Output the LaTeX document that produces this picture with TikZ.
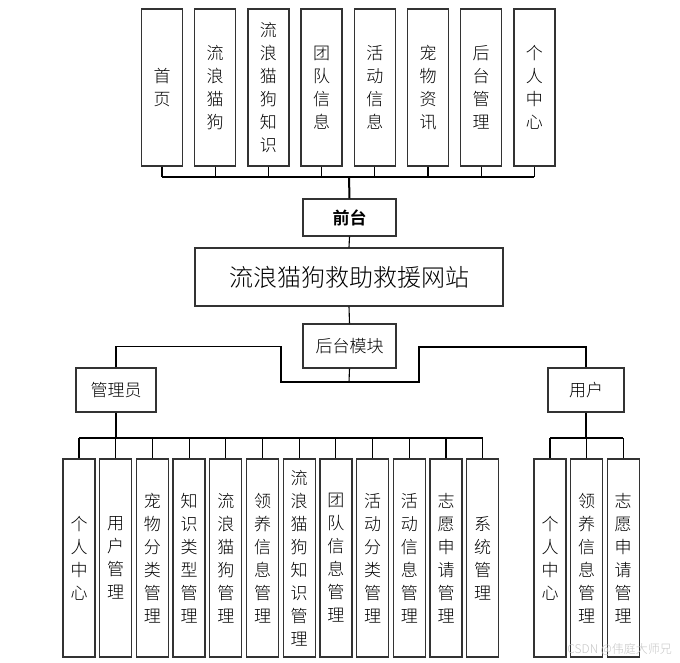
\documentclass[tikz,border=0pt]{standalone}
\usepackage{fontspec}
\setmainfont{Noto Sans CJK SC}[UprightFont=* Light, BoldFont=* Bold]
\usepackage{tikz}
\usetikzlibrary{positioning, calc}
\definecolor{borde}{HTML}{333333}
\tikzset{
  every picture/.style={x=1pt, y=-1pt},
  caja/.style={draw=borde, line width=1.3pt, fill=white, inner sep=0pt, align=center,
              font=\fontsize{17}{23}\selectfont},
  modsup/.style={caja, minimum width=41pt, minimum height=157pt, text width=41pt},
  modinf/.style={caja, minimum width=32pt, minimum height=198pt, text width=32pt},
  rol/.style={caja, minimum height=44pt},
  linea/.style={draw=black, line width=1.1pt},
  tronco/.style={draw=black, line width=2pt},
}

\begin{document}
\begin{tikzpicture}
  \useasboundingbox (0,0) rectangle (680,663);
  % front modules
  \foreach \t [count=\i] in {{首\\页}, {流\\浪\\猫\\狗}, {流\\浪\\猫\\狗\\知\\识}, {团\\队\\信\\息}, {活\\动\\信\\息}, {宠\\物\\资\\讯}, {后\\台\\管\\理}, {个\\人\\中\\心}} {
    \node[modsup] (t\i) at ({162+53.2*(\i-1)},87.5) {\t};
  }
  \coordinate (bf) at (349,177);
  \foreach \i in {1,...,8} \draw[linea] (t\i.south) -- (t\i.south |- bf);
  \draw[tronco] (t1.south |- bf) -- (t8.south |- bf);

  \node[caja, minimum width=93pt, minimum height=37pt, font=\fontsize{17}{17}\selectfont\bfseries] (qt) at (349.5,217.5) {前台};
  \node[caja, minimum width=308pt, minimum height=58pt, font=\fontsize{24}{24}\selectfont] (web) at (349,277) {流浪猫狗救助救援网站};
  \node[rol, minimum width=93pt] (ht) at (349.5,346) {后台模块};
  \draw[tronco] (bf) -- (qt.north);
  \draw[linea] (qt.south) -- (web.north);
  \draw[linea] (web.south) -- (ht.north);

  % back end: roles
  \node[rol, minimum width=80pt] (gl) at (116,390) {管理员};
  \node[rol, minimum width=76pt] (yh) at (586,390) {用户};
  \coordinate (hb) at (349,382);
  \coordinate (ci) at (281,382);
  \coordinate (cd) at (419,382);
  \draw[linea] (ht.south) -- (hb);
  \draw[linea] (gl.north) -- ++(0,-21) -| (ci) -- (cd) -- ++(0,-35) -| (yh.north);

  % admin modules
  \foreach \t [count=\i] in {{个\\人\\中\\心}, {用\\户\\管\\理}, {宠\\物\\分\\类\\管\\理}, {知\\识\\类\\型\\管\\理}, {流\\浪\\猫\\狗\\管\\理}, {领\\养\\信\\息\\管\\理}, {流\\浪\\猫\\狗\\知\\识\\管\\理}, {团\\队\\信\\息\\管\\理}, {活\\动\\分\\类\\管\\理}, {活\\动\\信\\息\\管\\理}, {志\\愿\\申\\请\\管\\理}, {系\\统\\管\\理}} {
    \node[modinf] (a\i) at ({79+36.7*(\i-1)},558) {\t};
  }
  \coordinate (bg) at (116,438);
  \draw[tronco] (gl.south) -- (bg);
  \draw[tronco] (a1.north |- bg) -- (a12.north |- bg);
  \foreach \i in {1,...,12} \draw[linea] (a\i.north) -- (a\i.north |- bg);

  % user modules
  \foreach \t [count=\i] in {{个\\人\\中\\心}, {领\\养\\信\\息\\管\\理}, {志\\愿\\申\\请\\管\\理}} {
    \node[modinf] (u\i) at ({550+36.6*(\i-1)},558) {\t};
  }
  \coordinate (bu) at (586,438);
  \draw[tronco] (yh.south) -- (bu);
  \draw[tronco] (u1.north |- bu) -- (u3.north |- bu);
  \foreach \i in {1,...,3} \draw[linea] (u\i.north) -- (u\i.north |- bu);

  \node[text=gray!45, inner sep=0pt, anchor=south east, font=\fontsize{12}{12}\selectfont] (marca) at (672,656) {CSDN @伟庭大师兄};
\end{tikzpicture}
\end{document}
